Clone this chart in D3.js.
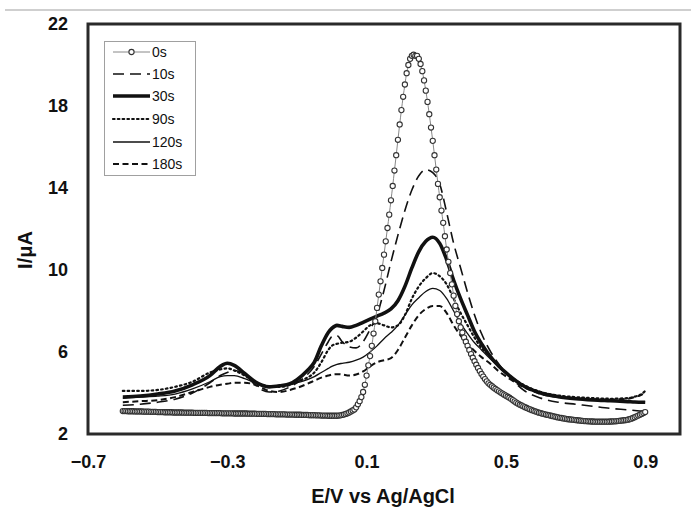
<!DOCTYPE html>
<html>
<head>
<meta charset="utf-8">
<script src="https://cdn.jsdelivr.net/npm/d3@7"></script>
<style>
  html, body { margin: 0; padding: 0; background: #fff; }
  svg { display: block; }
  text { font-family: "Liberation Sans", Arial, Helvetica, sans-serif; }
</style>
</head>
<body>
<svg id="chart" width="691" height="508"></svg>
<script>
// ---------------- data ----------------
const seriesNames = ["0s", "10s", "30s", "90s", "120s", "180s"];
const xTickValues = [-0.7, -0.3, 0.1, 0.5, 0.9];
const yTickValues = [2, 6, 10, 14, 18, 22];
const xTitle = "E/V vs Ag/AgCl";
const yTitle = "I/\u03bcA";

// 0s curve (marker on every sample), potentials -0.60 .. 0.90 V in 5 mV steps
const e0 = d3.range(-120, 181).map(i => i / 200);
const i0Base = [ // -0.600 .. 0.050
  3.12,3.12,3.12,3.11,3.11,3.11,3.11,3.10,3.10,3.10,
  3.10,3.10,3.09,3.09,3.09,3.09,3.08,3.08,3.08,3.08,
  3.07,3.07,3.07,3.07,3.06,3.06,3.06,3.06,3.06,3.05,
  3.05,3.05,3.05,3.05,3.05,3.04,3.04,3.04,3.04,3.04,
  3.04,3.03,3.03,3.03,3.03,3.03,3.03,3.03,3.03,3.02,
  3.02,3.02,3.02,3.02,3.02,3.02,3.02,3.01,3.01,3.01,
  3.01,3.01,3.01,3.01,3.00,3.00,3.00,3.00,3.00,3.00,
  3.00,3.00,2.99,2.99,2.99,2.99,2.99,2.98,2.98,2.98,
  2.98,2.98,2.98,2.97,2.97,2.97,2.97,2.97,2.96,2.96,
  2.96,2.96,2.96,2.96,2.95,2.95,2.95,2.95,2.95,2.94,
  2.94,2.94,2.94,2.93,2.93,2.93,2.93,2.92,2.92,2.92,
  2.92,2.91,2.91,2.91,2.90,2.90,2.90,2.90,2.89,2.89,
  2.89,2.89,2.89,2.89,2.90,2.91,2.93,2.95,2.98,3.01,3.05];
const i0Peak = [ // 0.055 .. 0.450
  3.10,3.15,3.20,3.30,3.45,3.60,3.80,4.05,4.40,4.85,5.35,5.80,6.30,6.90,7.50,8.15,8.80,9.45,10.10,10.75,
  11.40,12.05,12.70,13.40,14.10,14.85,15.60,16.35,17.10,17.80,18.45,19.05,19.60,20.00,20.30,20.45,20.50,20.45,
  20.45,20.30,20.05,19.70,19.25,18.75,18.20,17.60,16.95,16.30,15.60,14.90,14.20,13.55,12.90,12.30,11.65,11.00,
  10.40,9.85,9.30,8.75,8.25,7.85,7.50,7.20,6.95,6.70,6.50,6.30,6.10,5.90,5.72,5.55,5.38,5.22,5.07,4.93,4.80,4.68,4.57,4.47];
const i0Tail = [ // 0.455 .. 0.900
  4.40,4.33,4.26,4.20,4.14,4.08,4.02,3.97,3.92,3.87,
  3.82,3.77,3.71,3.65,3.59,3.53,3.48,3.43,3.39,3.35,
  3.31,3.27,3.23,3.20,3.16,3.13,3.10,3.07,3.04,3.02,
  2.99,2.97,2.95,2.93,2.91,2.89,2.87,2.85,2.83,2.81,
  2.79,2.78,2.76,2.75,2.73,2.72,2.71,2.70,2.69,2.68,
  2.67,2.66,2.65,2.64,2.63,2.63,2.62,2.62,2.61,2.61,
  2.60,2.60,2.60,2.60,2.60,2.60,2.60,2.60,2.60,2.61,
  2.61,2.62,2.62,2.63,2.64,2.65,2.66,2.67,2.68,2.70,
  2.72,2.75,2.78,2.82,2.86,2.90,2.94,2.98,3.03,3.07];

// other scans, shared potentials (V)
const potentials = [-0.6,-0.55,-0.5,-0.45,-0.4,-0.35,-0.32,-0.3,-0.28,-0.25,-0.22,-0.2,-0.18,-0.15,-0.12,-0.1,-0.07,-0.05,-0.03,-0.01,
  0.0,0.015,0.03,0.05,0.07,0.09,0.11,0.13,0.15,0.17,0.19,0.21,0.23,0.25,0.27,0.29,0.31,0.33,0.35,0.37,
  0.39,0.41,0.43,0.45,0.48,0.51,0.55,0.6,0.65,0.7,0.75,0.8,0.85,0.87,0.89,0.9];
const i10 = [3.40,3.45,3.55,3.70,4.00,4.50,4.85,5.00,5.10,4.90,4.40,4.15,4.05,4.10,4.30,4.50,4.90,5.30,5.90,6.50,
  6.75,6.80,6.50,6.25,6.20,6.50,7.10,7.80,9.00,10.40,11.70,12.90,13.90,14.60,14.90,14.75,14.20,12.80,11.30,10.10,
  8.90,7.80,6.90,6.20,5.40,4.80,4.15,3.75,3.55,3.45,3.35,3.25,3.18,3.15,3.12,3.12];
const i30 = [3.80,3.85,3.95,4.10,4.40,4.85,5.30,5.45,5.35,4.95,4.55,4.38,4.30,4.35,4.45,4.65,5.10,5.50,6.30,6.95,
  7.15,7.30,7.25,7.20,7.30,7.45,7.60,7.75,7.90,8.10,8.50,9.20,10.10,10.90,11.40,11.60,11.30,10.50,9.50,8.60,
  7.80,7.00,6.40,5.90,5.30,4.85,4.35,4.00,3.82,3.72,3.66,3.62,3.58,3.56,3.55,3.55];
const i90 = [4.10,4.10,4.15,4.30,4.55,5.00,5.15,5.20,5.10,4.85,4.55,4.40,4.30,4.30,4.40,4.55,4.75,5.00,5.50,6.10,
  6.30,6.40,6.45,6.50,6.70,7.00,7.30,7.40,7.30,7.20,7.30,7.80,8.60,9.20,9.60,9.85,9.70,9.30,8.60,7.90,
  7.30,6.70,6.20,5.85,5.30,4.85,4.40,4.05,3.88,3.80,3.75,3.72,3.75,3.82,3.95,4.10];
const i120 = [3.75,3.80,3.85,3.95,4.20,4.55,4.80,4.85,4.85,4.70,4.50,4.40,4.35,4.35,4.40,4.50,4.65,4.80,5.00,5.20,
  5.30,5.40,5.45,5.50,5.60,5.75,6.00,6.30,6.65,6.95,7.30,7.80,8.30,8.65,8.95,9.10,9.00,8.60,8.00,7.40,
  6.90,6.45,6.10,5.75,5.25,4.80,4.35,4.00,3.82,3.72,3.66,3.62,3.58,3.57,3.56,3.58];
const i180 = [3.55,3.60,3.65,3.80,4.05,4.30,4.40,4.45,4.50,4.50,4.40,4.25,4.10,4.05,4.15,4.25,4.45,4.60,4.75,4.85,
  4.90,4.92,4.90,4.85,4.90,5.05,5.30,5.50,5.60,5.70,6.10,6.70,7.30,7.80,8.10,8.25,8.25,7.90,7.30,6.80,
  6.40,6.05,5.75,5.50,5.05,4.70,4.30,3.95,3.80,3.74,3.70,3.68,3.72,3.80,3.92,4.05];

// ---------------- chart ----------------
const svg = d3.select("#chart");
const x = d3.scaleLinear().domain([-0.7, 1.0]).range([88, 680]);
const y = d3.scaleLinear().domain([2, 22]).range([434, 24]);

// faint frame line at top of figure
svg.append("line").attr("x1", 5).attr("x2", 691).attr("y1", 10).attr("y2", 10)
  .attr("stroke", "#cfcfcf").attr("stroke-width", 2);

const line = d3.line().x(d => x(d[0])).y(d => y(d[1])).curve(d3.curveMonotoneX);
const zip = (xs, ys) => xs.map((v, i) => [v, ys[i]]);

const styles = {
  "10s":  { width: 1.6, dash: "11,6" },
  "30s":  { width: 3.6, dash: null },
  "90s":  { width: 2.2, dash: "1.6,3.2", cap: "round" },
  "120s": { width: 1.3, dash: null },
  "180s": { width: 2.0, dash: "6,3.5" }
};
const lineSeries = [
  ["10s", i10], ["30s", i30], ["90s", i90], ["120s", i120], ["180s", i180]
];
const plot = svg.append("g");
lineSeries.forEach(([name, vals]) => {
  const s = styles[name];
  plot.append("path").datum(zip(potentials, vals))
    .attr("d", line).attr("fill", "none").attr("stroke", "#111")
    .attr("stroke-width", s.width)
    .attr("stroke-dasharray", s.dash)
    .attr("stroke-linecap", s.cap || "butt")
    .attr("stroke-linejoin", "round");
});

// 0s: thin gray line with open circles
const data0 = zip(e0, [...i0Base, ...i0Peak, ...i0Tail]);
plot.append("path").datum(data0).attr("d", line).attr("fill", "none")
  .attr("stroke", "#888").attr("stroke-width", 1);
plot.selectAll("circle.m0").data(data0).enter().append("circle")
  .attr("class", "m0").attr("cx", d => x(d[0])).attr("cy", d => y(d[1]))
  .attr("r", 2.6).attr("fill", "#fff").attr("stroke", "#333").attr("stroke-width", 1.1);

// axes
const xAxis = d3.axisBottom(x).tickValues(xTickValues).tickSize(0).tickPadding(21)
  .tickFormat(d3.format(".1f"));
const yAxis = d3.axisLeft(y).tickValues(yTickValues).tickSize(0).tickPadding(20)
  .tickFormat(d3.format("d"));
const gx = svg.append("g").attr("transform", "translate(0,434)").call(xAxis);
const gy = svg.append("g").attr("transform", "translate(88,0)").call(yAxis);
[gx, gy].forEach(g => {
  g.select(".domain").remove();
  g.selectAll("text").attr("font-size", 18).attr("font-weight", "bold")
    .attr("fill", "#111").style("font-family", "'Liberation Sans', Arial, sans-serif");
});

// plot frame
svg.append("rect").attr("x", 88).attr("y", 24).attr("width", 592).attr("height", 410)
  .attr("fill", "none").attr("stroke", "#2a2a2a").attr("stroke-width", 3);

// axis titles
svg.append("text").attr("x", 383).attr("y", 503).attr("text-anchor", "middle")
  .attr("font-size", 20).attr("font-weight", "bold").attr("fill", "#111").text(xTitle);
svg.append("text").attr("transform", "translate(32,250) rotate(-90)").attr("text-anchor", "middle")
  .attr("font-size", 20).attr("font-weight", "bold").attr("fill", "#111").text(yTitle);

// legend
const lg = svg.append("g");
lg.append("rect").attr("x", 104.5).attr("y", 41.5).attr("width", 91).attr("height", 134)
  .attr("fill", "#fff").attr("stroke", "#a0a0a0").attr("stroke-width", 1);
const legendY = [52, 74, 96, 119, 142, 164];
seriesNames.forEach((name, i) => {
  const yy = legendY[i];
  if (name === "0s") {
    lg.append("line").attr("x1", 113).attr("x2", 150).attr("y1", yy).attr("y2", yy)
      .attr("stroke", "#888").attr("stroke-width", 1);
    lg.append("circle").attr("cx", 131.5).attr("cy", yy).attr("r", 2.6)
      .attr("fill", "#fff").attr("stroke", "#333").attr("stroke-width", 1.1);
  } else {
    const s = styles[name];
    lg.append("line").attr("x1", 113).attr("x2", 150).attr("y1", yy).attr("y2", yy)
      .attr("stroke", "#111").attr("stroke-width", s.width)
      .attr("stroke-dasharray", s.dash).attr("stroke-linecap", s.cap || "butt");
  }
  lg.append("text").attr("x", 152).attr("y", yy).attr("dy", "0.36em")
    .attr("font-size", 14).attr("fill", "#111").text(name);
});
</script>
</body>
</html>
